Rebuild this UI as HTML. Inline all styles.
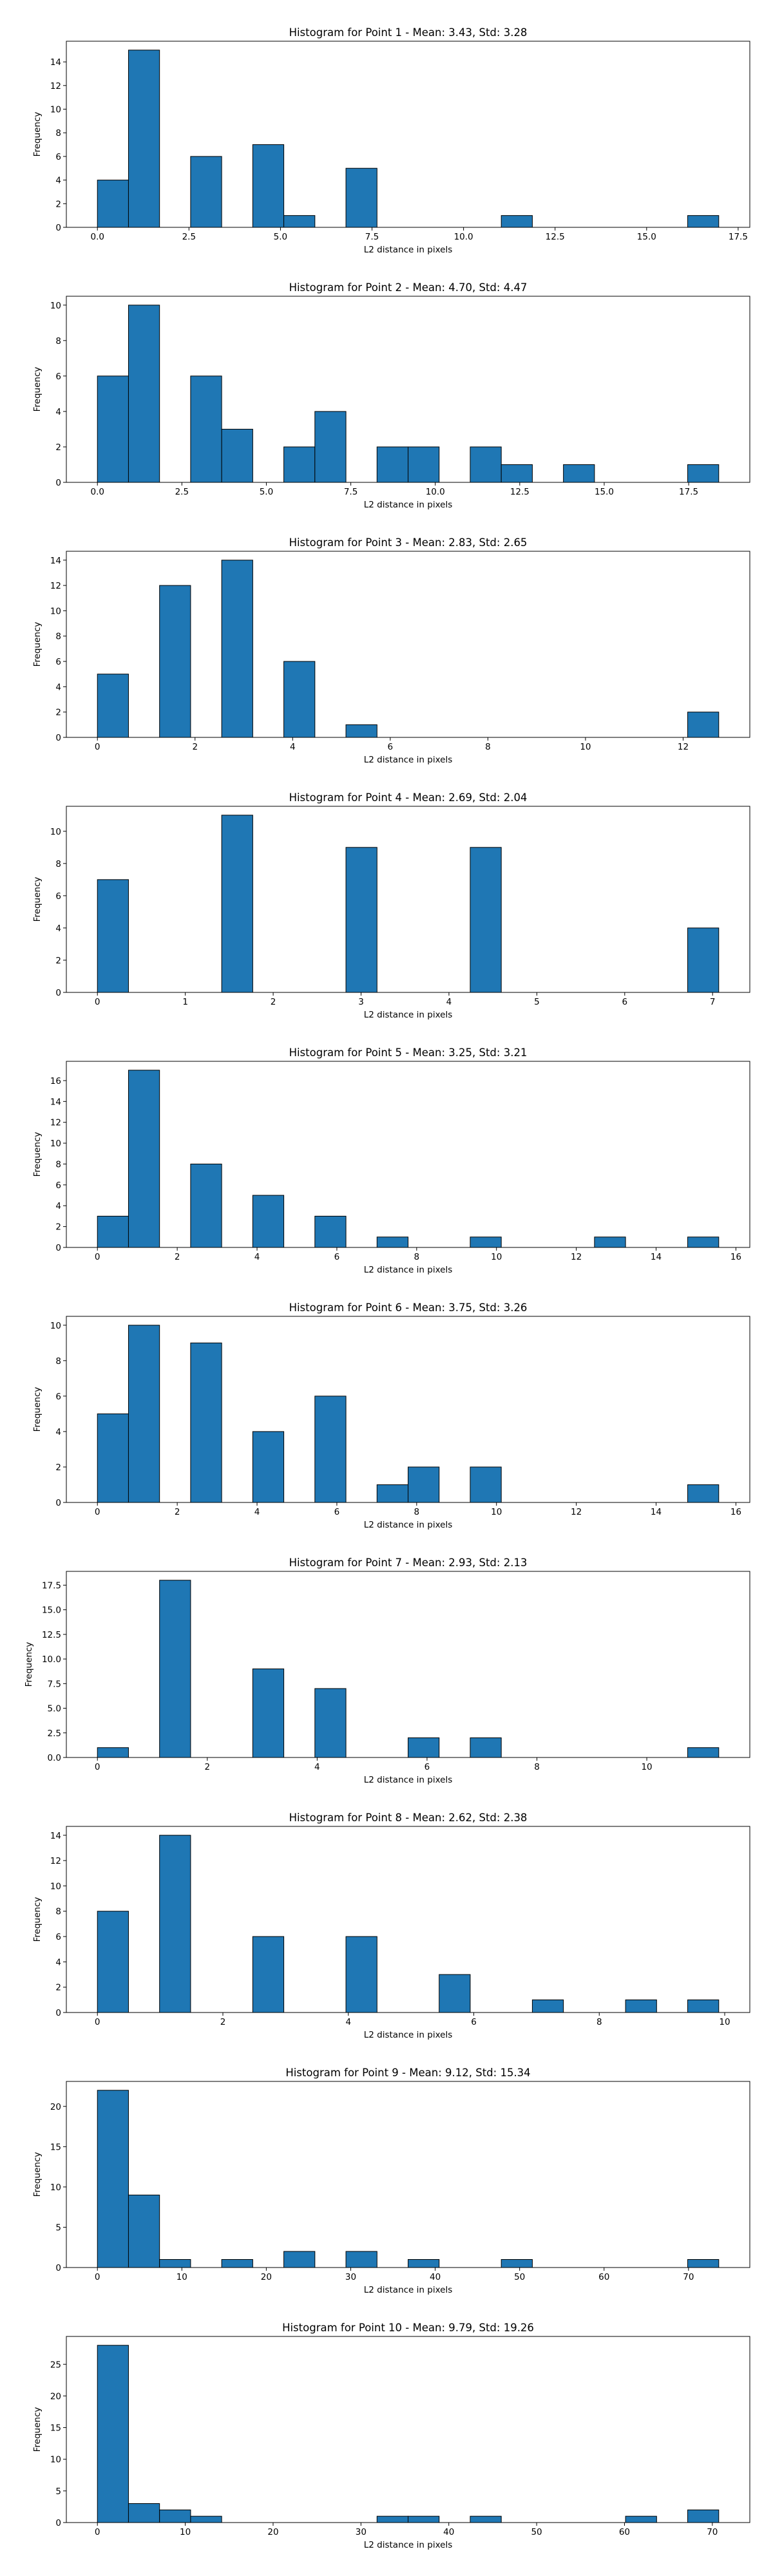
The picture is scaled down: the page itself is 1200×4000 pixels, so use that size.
<!DOCTYPE html>
<html><head><meta charset="utf-8"><style>
html,body{margin:0;padding:0;background:#fff;}
svg{display:block;font-family:"DejaVu Sans","Liberation Sans",sans-serif;}
</style></head><body>
<svg id="fig" width="1200" height="4000" viewBox="0 0 1200 4000" xmlns="http://www.w3.org/2000/svg"></svg>
<script>
const titles = [
 "Histogram for Point 1 - Mean: 3.43, Std: 3.28",
 "Histogram for Point 2 - Mean: 4.70, Std: 4.47",
 "Histogram for Point 3 - Mean: 2.83, Std: 2.65",
 "Histogram for Point 4 - Mean: 2.69, Std: 2.04",
 "Histogram for Point 5 - Mean: 3.25, Std: 3.21",
 "Histogram for Point 6 - Mean: 3.75, Std: 3.26",
 "Histogram for Point 7 - Mean: 2.93, Std: 2.13",
 "Histogram for Point 8 - Mean: 2.62, Std: 2.38",
 "Histogram for Point 9 - Mean: 9.12, Std: 15.34",
 "Histogram for Point 10 - Mean: 9.79, Std: 19.26"
];
const dataMin = [0,0,0,0,0,0,0,0,0,0];
const dataMax = [16.97,18.39,12.73,7.07,15.57,15.57,11.31,9.905,73.58,70.73];
const counts1 = [4,15,0,6,0,7,1,0,5,0,0,0,0,1,0,0,0,0,0,1];
const counts2 = [6,10,0,6,3,0,2,4,0,2,2,0,2,1,0,1,0,0,0,1];
const counts3 = [5,0,12,0,14,0,6,0,1,0,0,0,0,0,0,0,0,0,0,2];
const counts4 = [7,0,0,0,11,0,0,0,9,0,0,0,9,0,0,0,0,0,0,4];
const counts5 = [3,17,0,8,0,5,0,3,0,1,0,0,1,0,0,0,1,0,0,1];
const counts6 = [5,10,0,9,0,4,0,6,0,1,2,0,2,0,0,0,0,0,0,1];
const counts7 = [1,0,18,0,0,9,0,7,0,0,2,0,2,0,0,0,0,0,0,1];
const counts8 = [8,0,14,0,0,6,0,0,6,0,0,3,0,0,1,0,0,1,0,1];
const counts9 = [22,9,1,0,1,0,2,0,2,0,1,0,0,1,0,0,0,0,0,1];
const counts10 = [28,3,2,1,0,0,0,0,0,1,1,0,1,0,0,0,0,1,0,2];
const allCounts = [counts1,counts2,counts3,counts4,counts5,counts6,counts7,counts8,counts9,counts10];
const xTickStep = [2.5,2.5,2,1,2,2,2,2,10,10];
const xTickDec = [1,1,0,0,0,0,0,0,0,0];
const yTickStep = [2,2,2,2,2,2,2.5,2,5,5];
const yTickDec = [0,0,0,0,0,0,1,0,0,0];

const NS="http://www.w3.org/2000/svg";
const fig=document.getElementById('fig');
function mk(tag,attrs,parent){const e=document.createElementNS(NS,tag);for(const k in attrs)e.setAttribute(k,attrs[k]);parent.appendChild(e);return e;}

const L=103,R=1164,H=289;
for(let i=0;i<10;i++){
  const top=64+396*i, bot=top+H;
  const g=mk('g',{},fig);
  
  
  const c=allCounts[i];
  const mn=dataMin[i], mx=dataMax[i], rng=mx-mn;
  const x0=mn-0.05*rng, x1=mx+0.05*rng;
  const ymax=Math.max(...c)*1.05;
  const sx=v=>L+(v-x0)/(x1-x0)*(R-L);
  const sy=v=>bot-v/ymax*H;
  const bw=rng/c.length;
  // bars
  for(let k=0;k<c.length;k++){
    if(c[k]<=0) continue;
    const a=sx(mn+k*bw), b=sx(mn+(k+1)*bw);
    const r=mk('rect',{x:a,y:sy(c[k]),width:b-a,height:bot-sy(c[k]),fill:'#1f77b4',stroke:'#000','stroke-width':1},g);
    
    
  }
  // frame
  const fr=mk('rect',{x:L,y:top,width:R-L,height:H,fill:'none',stroke:'#000','stroke-width':1},g);
  
  
  // x ticks
  for(let t=0;t<=x1+1e-9;t+=xTickStep[i]){
    if(t<x0) continue;
    const x=sx(t);
    mk('line',{x1:x,y1:bot,x2:x,y2:bot+5,stroke:'#000','stroke-width':1},g);
    const tx=mk('text',{x:x,y:bot+19,'font-size':13.5,'text-anchor':'middle',fill:'#000'},g);
    tx.textContent=t.toFixed(xTickDec[i]);
    
    
  }
  // y ticks
  for(let t=0;t<=ymax+1e-9;t+=yTickStep[i]){
    const y=sy(t);
    mk('line',{x1:L-5,y1:y,x2:L,y2:y,stroke:'#000','stroke-width':1},g);
    const ty=mk('text',{x:L-8,y:y+5,'font-size':13.5,'text-anchor':'end',fill:'#000'},g);
    ty.textContent=t.toFixed(yTickDec[i]);
    
    
  }
  const tt=mk('text',{x:(L+R)/2,y:top-8,'font-size':16.5,'text-anchor':'middle',fill:'#000'},g);
  tt.textContent=titles[i];
  
  
  const xl=mk('text',{x:(L+R)/2,y:bot+39,'font-size':13.5,'text-anchor':'middle',fill:'#000'},g);
  xl.textContent='L2 distance in pixels';
  
  
  const yx = (yTickDec[i]===1)?49:62;
  const yl=mk('text',{x:yx,y:top+H/2,'font-size':13.5,'text-anchor':'middle',fill:'#000',transform:'rotate(-90 '+yx+' '+(top+H/2)+')'},g);
  yl.textContent='Frequency';
  
  
}
</script>
</body></html>
